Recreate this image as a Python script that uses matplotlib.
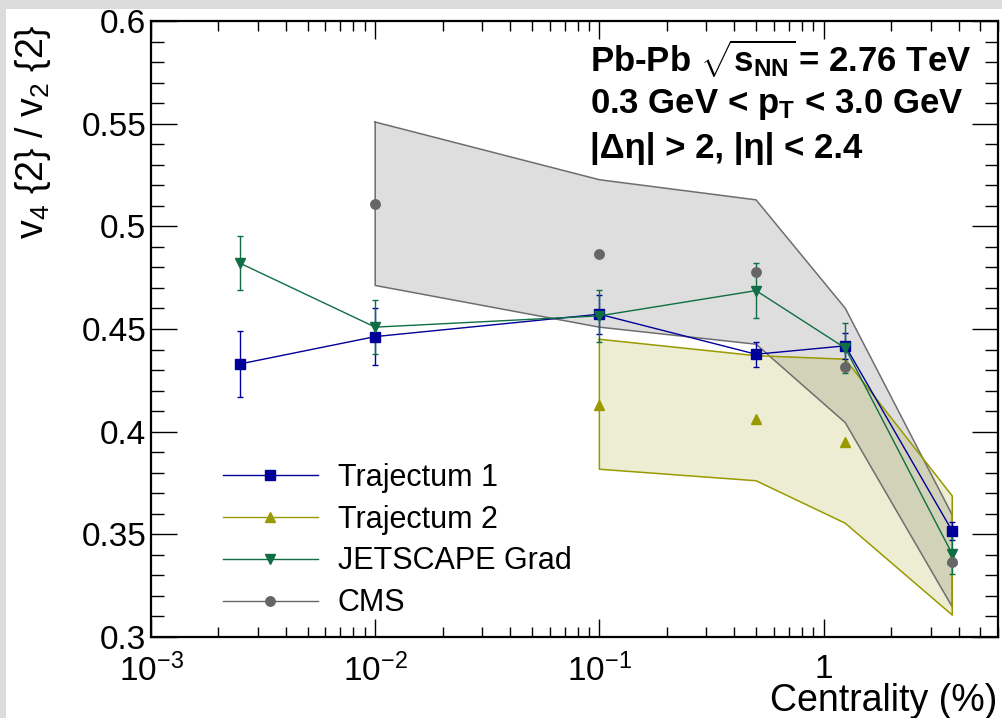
import numpy as np
import matplotlib
matplotlib.use("Agg")
import matplotlib.pyplot as plt
from matplotlib.lines import Line2D
from matplotlib.patches import Rectangle
from matplotlib.ticker import FixedLocator, FixedFormatter, LogLocator, MultipleLocator, NullFormatter

plt.rcParams['font.family'] = ['Liberation Sans', 'DejaVu Sans']
plt.rcParams['mathtext.fontset'] = 'custom'
plt.rcParams['mathtext.rm'] = 'Liberation Sans'
plt.rcParams['mathtext.it'] = 'Liberation Sans:italic'
plt.rcParams['mathtext.bf'] = 'Liberation Sans:bold'

# centrality bin centres (%)
centrality = [0.0025, 0.01, 0.1, 0.5, 1.25, 3.75]

# Trajectum 1
traj1_y = [0.433, 0.4463, 0.4572, 0.4377, 0.4418, 0.3516]
traj1_err = [0.0159, 0.0140, 0.0094, 0.0061, 0.0063, 0.0043]

# JETSCAPE Grad
jet_y = [0.482, 0.4509, 0.4564, 0.4687, 0.4407, 0.3404]
jet_err = [0.0131, 0.0132, 0.0128, 0.0134, 0.0122, 0.0099]

# Trajectum 2 (points + band)
traj2_x = [0.1, 0.5, 1.25, 3.75]
traj2_y = [0.413, 0.4062, 0.3951, 0.338]
traj2_lo = [0.3817, 0.3761, 0.3554, 0.3107]
traj2_hi = [0.4450, 0.4370, 0.4353, 0.3687]

# CMS (points + band)
cms_x = [0.01, 0.1, 0.5, 1.25, 3.75]
cms_y = [0.5107, 0.4867, 0.4777, 0.4317, 0.3367]
cms_lo = [0.4712, 0.4509, 0.4426, 0.4044, 0.3147]
cms_hi = [0.5508, 0.5227, 0.5129, 0.4601, 0.3594]

c_traj1 = '#000099'
c_traj2 = '#999900'
c_jet = '#0f6e44'
c_cms = '#666666'

W, H = 1003, 718
fig = plt.figure(figsize=(W / 100, H / 100), dpi=100)
fig.patch.set_facecolor('#dcdcdc')
fig.add_artist(Rectangle((6 / W, 0), 1, (H - 9) / H, transform=fig.transFigure,
                         facecolor='white', edgecolor='none', zorder=-10))

ax = fig.add_axes([151 / W, (H - 637) / H, 847 / W, 616 / H])
ax.set_xscale('log')
ax.set_xlim(1e-3, 6.0)
ax.set_ylim(0.3, 0.6)

# bands
ax.fill_between(cms_x, cms_lo, cms_hi, facecolor=(0.6, 0.6, 0.6, 0.32), edgecolor='none', zorder=1)
ax.plot(cms_x + cms_x[::-1] + [cms_x[0]], cms_hi + cms_lo[::-1] + [cms_hi[0]],
        color='#6e6e6e', lw=1.1, zorder=2)
ax.fill_between(traj2_x, traj2_lo, traj2_hi, facecolor=(0.6, 0.6, 0.0, 0.17), edgecolor='none', zorder=1.5)
ax.plot(traj2_x + traj2_x[::-1] + [traj2_x[0]], traj2_hi + traj2_lo[::-1] + [traj2_hi[0]],
        color=c_traj2, lw=1.1, zorder=2.5)

# model curves
ax.errorbar(centrality, traj1_y, yerr=traj1_err, color=c_traj1, marker='s', ms=7.5,
            lw=1.0, elinewidth=1.0, capsize=2.2, capthick=1.0, zorder=4)
ax.errorbar(centrality, jet_y, yerr=jet_err, color=c_jet, marker='v', ms=7.5,
            lw=1.0, elinewidth=1.0, capsize=2.2, capthick=1.0, zorder=4)
ax.plot(traj2_x, traj2_y, ls='none', color=c_traj2, marker='^', ms=7.5, zorder=3)
ax.plot(cms_x, cms_y, ls='none', color=c_cms, marker='o', ms=6.8, zorder=5)

# axes style (ROOT-like)
for s in ax.spines.values():
    s.set_linewidth(1.6)
ax.xaxis.set_major_locator(FixedLocator([1e-3, 1e-2, 1e-1, 1]))
ax.xaxis.set_major_formatter(FixedFormatter([r'$10^{-3}$', r'$10^{-2}$', r'$10^{-1}$', '1']))
ax.xaxis.set_minor_locator(LogLocator(base=10, subs=np.arange(2, 10), numticks=20))
ax.xaxis.set_minor_formatter(NullFormatter())
ax.yaxis.set_major_locator(MultipleLocator(0.05))
ax.yaxis.set_minor_locator(MultipleLocator(0.01))
ax.yaxis.set_major_formatter(plt.FuncFormatter(lambda v, p: ('%g' % round(v, 3))))
ax.tick_params(axis='both', which='both', direction='in', top=True, right=True, width=1.0)
ax.tick_params(axis='x', which='major', length=13, pad=12, labelsize=24)
ax.tick_params(axis='x', which='minor', length=7)
ax.tick_params(axis='y', which='major', length=18.5, pad=3.5, labelsize=24)
ax.tick_params(axis='y', which='minor', length=9.3)

fig.text(997 / W, (H - 711) / H, 'Centrality (%)', fontsize=27, ha='right', va='baseline')
fig.text(33 / W, (H - 24) / H, r'v$_{4}$ {2} / v$_{2}$ {2}', fontsize=27, rotation=90,
         ha='center', va='top')

fig.text(590 / W, (H - 72) / H, r'Pb-Pb $\mathbf{\sqrt{s_{NN}}}\,$= 2.76 TeV', fontsize=25,
         fontweight='bold', ha='left', va='baseline')
fig.text(590 / W, (H - 113) / H, r'0.3 GeV < $\mathbf{p_{T}}$ < 3.0 GeV', fontsize=25,
         fontweight='bold', ha='left', va='baseline')
fig.text(590 / W, (H - 158) / H, '|Δη| > 2, |η| < 2.4', fontsize=25,
         fontweight='bold', ha='left', va='baseline')

handles = [
    Line2D([], [], color=c_traj1, marker='s', ms=7.5, lw=1.0),
    Line2D([], [], color=c_traj2, marker='^', ms=7.5, lw=1.0),
    Line2D([], [], color=c_jet, marker='v', ms=7.5, lw=1.0),
    Line2D([], [], color=c_cms, marker='o', ms=6.8, lw=1.0),
]
labels = ['Trajectum 1', 'Trajectum 2', 'JETSCAPE Grad', 'CMS']
ax.legend(handles, labels, loc='center left', bbox_to_anchor=(223 / W, (H - 540.5) / H),
          bbox_transform=fig.transFigure, frameon=False, fontsize=22, borderpad=0,
          borderaxespad=0, handlelength=3.1, handletextpad=0.65, labelspacing=0.39)

fig.savefig('out.png', dpi=100, facecolor=fig.get_facecolor())
